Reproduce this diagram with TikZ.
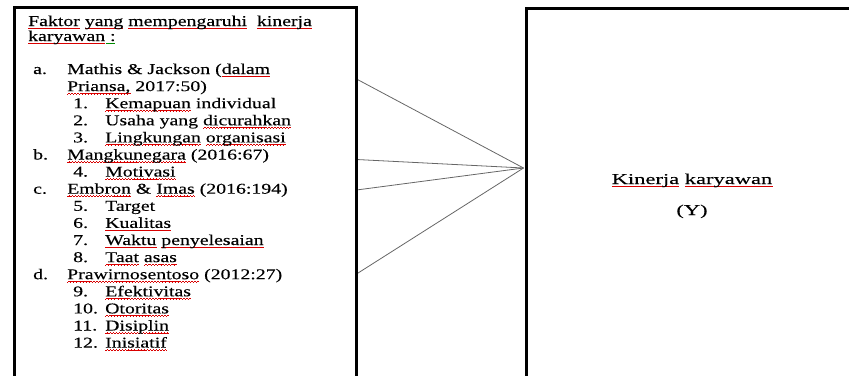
\documentclass[tikz,border=0pt]{standalone}
\usepackage{fontspec}
\setmainfont{Liberation Serif}
\newfontfamily\listfont{Liberation Serif}[FakeStretch=1.32,FakeBold=0.25]
\newfontfamily\boxfont{Liberation Serif}[FakeStretch=1.5,FakeBold=0.25]
\usepackage{tikz}
\usetikzlibrary{positioning}

% spell-check squiggles
\newsavebox\sqbox
\newcommand\wavebit{\rule[-3pt]{0.75pt}{0.55pt}\rule[-2.6pt]{0.75pt}{0.55pt}\rule[-2.2pt]{0.75pt}{0.55pt}\rule[-2.6pt]{0.75pt}{0.55pt}}
\newcommand\squig[2]{\sbox\sqbox{#2}\rlap{\color{#1}\hbox to\wd\sqbox{\xleaders\hbox{\wavebit}\hfill}}\usebox{\sqbox}}
\newcommand\rw[1]{\squig{red!85!black}{#1}}
\newcommand\gw[1]{\squig{green!55!black}{#1}}

\begin{document}
\begin{tikzpicture}[x=1pt, y=-1pt,
  box/.style={draw, line width=3pt, anchor=north west, inner sep=0pt},
  txt/.style={anchor=base west, inner sep=0pt, font=\listfont\fontsize{15}{17}\selectfont},
  ytxt/.style={anchor=base, inner sep=0pt, font=\boxfont\fontsize{15}{17}\selectfont},
  fan/.style={black!60, line width=0.8pt}]

\useasboundingbox (0,0) rectangle (849,375);

% Fan of connectors (under the boxes)
\coordinate (hub) at (523.5,168);
\coordinate (f1) at (356.5,79);
\coordinate (f2) at (356.5,159.5);
\coordinate (f3) at (356.5,190);
\coordinate (f4) at (356.5,274);
\draw[fan] (f1) -- (hub);
\draw[fan] (f2) -- (hub);
\draw[fan] (f3) -- (hub);
\draw[fan] (f4) -- (hub);

% Boxes (open below the picture edge)
\node[box, minimum width=342pt, minimum height=420pt] (faktor) at (13,6) {};
\node[box, minimum width=400pt, minimum height=420pt] (kinerja) at (525,6.5) {};

% Heading
\node[txt] (hd1) at (28,26) {\rw{Faktor} \rw{yang} \rw{mempengaruhi}\ \ \rw{kinerja}};
\node[txt] (hd2) at (28,41) {\rw{karyawan}\gw{ :}};

% Sources and indicators
\node[txt] (sa) at (33,74) {\makebox[34pt][l]{a.}Mathis \& Jackson (\rw{dalam}};
\node[txt] (sa2) at (67,91.1) {\rw{Priansa,} 2017:50)};
\node[txt] (n1) at (73,108.2) {\makebox[32pt][l]{1.}\rw{Kemapuan} individual};
\node[txt] (n2) at (73,125.3) {\makebox[32pt][l]{2.}Usaha yang \rw{dicurahkan}};
\node[txt] (n3) at (73,142.4) {\makebox[32pt][l]{3.}\rw{Lingkungan} \rw{organisasi}};
\node[txt] (sb) at (33,159.5) {\makebox[34pt][l]{b.}\rw{Mangkunegara} (2016:67)};
\node[txt] (n4) at (73,176.6) {\makebox[32pt][l]{4.}\rw{Motivasi}};
\node[txt] (sc) at (33,193.7) {\makebox[34pt][l]{c.}\rw{Embron} \& \rw{Imas} (2016:194)};
\node[txt] (n5) at (73,210.8) {\makebox[32pt][l]{5.}Target};
\node[txt] (n6) at (73,227.9) {\makebox[32pt][l]{6.}\rw{Kualitas}};
\node[txt] (n7) at (73,245) {\makebox[32pt][l]{7.}\rw{Waktu} \rw{penyelesaian}};
\node[txt] (n8) at (73,262.1) {\makebox[32pt][l]{8.}\rw{Taat} \rw{asas}};
\node[txt] (sd) at (33,279.2) {\makebox[34pt][l]{d.}\rw{Prawirnosentoso} (2012:27)};
\node[txt] (n9) at (73,296.3) {\makebox[32pt][l]{9.}\rw{Efektivitas}};
\node[txt] (n10) at (73,313.4) {\makebox[32pt][l]{10.}\rw{Otoritas}};
\node[txt] (n11) at (73,330.5) {\makebox[32pt][l]{11.}\rw{Disiplin}};
\node[txt] (n12) at (73,347.6) {\makebox[32pt][l]{12.}\rw{Inisiatif}};

% Dependent variable
\node[ytxt] (ky) at (692,184) {\rw{Kinerja} \rw{karyawan}};
\node[ytxt] (yy) at (692,215) {(Y)};

\end{tikzpicture}
\end{document}
